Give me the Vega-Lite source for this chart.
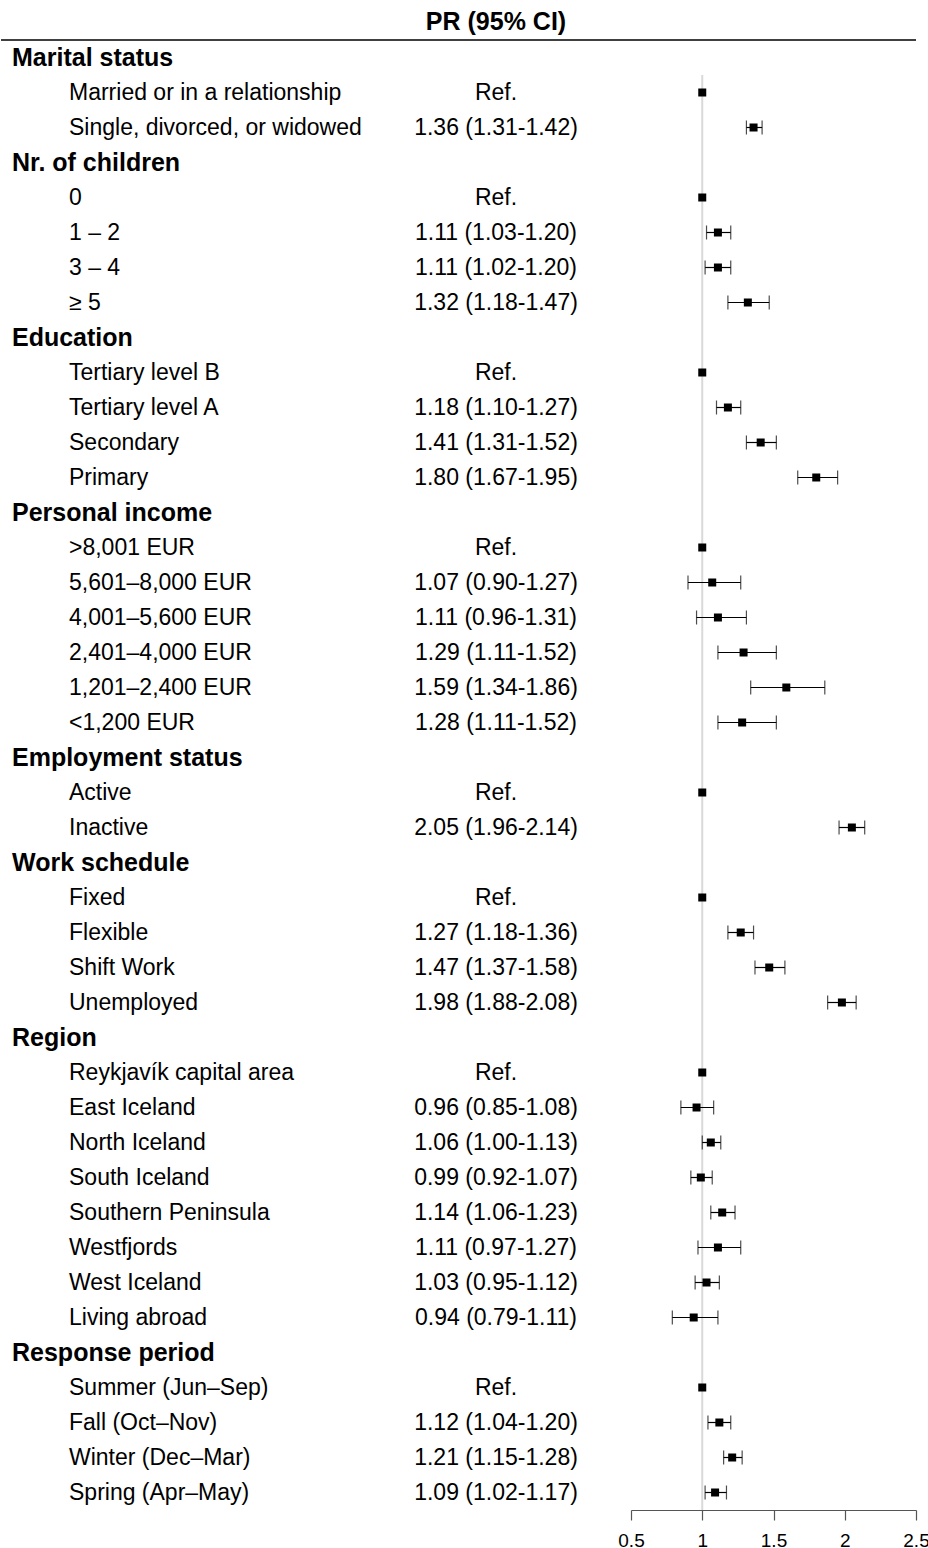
{
  "$schema": "https://vega.github.io/schema/vega-lite/v6.json",
  "padding": {"top": 10, "left": 0, "right": 3, "bottom": 3},
  "background": "white",
  "spacing": 0,
  "bounds": "flush",
  "config": {
    "view": {"stroke": null},
    "font": "Liberation Sans",
    "text": {"font": "Liberation Sans", "color": "#000000"},
    "title": {"font": "Liberation Sans", "color": "#000000"},
    "axis": {"labelFont": "Liberation Sans", "titleFont": "Liberation Sans"},
    "axisX": {"labelFontSize": 19, "labelPadding": 11, "labelFlush": false, "labelColor": "#000000"}
  },
  "data": {
    "values": [
      {"row": 1, "label": "Marital status", "kind": "header", "pr": null, "est": null, "lo": null, "hi": null},
      {"row": 2, "label": "Married or in a relationship", "kind": "item", "pr": "Ref.", "est": 1, "lo": null, "hi": null},
      {"row": 3, "label": "Single, divorced, or widowed", "kind": "item", "pr": "1.36 (1.31-1.42)", "est": 1.36, "lo": 1.31, "hi": 1.42},
      {"row": 4, "label": "Nr. of children", "kind": "header", "pr": null, "est": null, "lo": null, "hi": null},
      {"row": 5, "label": "0", "kind": "item", "pr": "Ref.", "est": 1, "lo": null, "hi": null},
      {"row": 6, "label": "1 – 2", "kind": "item", "pr": "1.11 (1.03-1.20)", "est": 1.11, "lo": 1.03, "hi": 1.20},
      {"row": 7, "label": "3 – 4", "kind": "item", "pr": "1.11 (1.02-1.20)", "est": 1.11, "lo": 1.02, "hi": 1.20},
      {"row": 8, "label": "≥ 5", "kind": "item", "pr": "1.32 (1.18-1.47)", "est": 1.32, "lo": 1.18, "hi": 1.47},
      {"row": 9, "label": "Education", "kind": "header", "pr": null, "est": null, "lo": null, "hi": null},
      {"row": 10, "label": "Tertiary level B", "kind": "item", "pr": "Ref.", "est": 1, "lo": null, "hi": null},
      {"row": 11, "label": "Tertiary level A", "kind": "item", "pr": "1.18 (1.10-1.27)", "est": 1.18, "lo": 1.10, "hi": 1.27},
      {"row": 12, "label": "Secondary", "kind": "item", "pr": "1.41 (1.31-1.52)", "est": 1.41, "lo": 1.31, "hi": 1.52},
      {"row": 13, "label": "Primary", "kind": "item", "pr": "1.80 (1.67-1.95)", "est": 1.80, "lo": 1.67, "hi": 1.95},
      {"row": 14, "label": "Personal income", "kind": "header", "pr": null, "est": null, "lo": null, "hi": null},
      {"row": 15, "label": ">8,001 EUR", "kind": "item", "pr": "Ref.", "est": 1, "lo": null, "hi": null},
      {"row": 16, "label": "5,601–8,000 EUR", "kind": "item", "pr": "1.07 (0.90-1.27)", "est": 1.07, "lo": 0.90, "hi": 1.27},
      {"row": 17, "label": "4,001–5,600 EUR", "kind": "item", "pr": "1.11 (0.96-1.31)", "est": 1.11, "lo": 0.96, "hi": 1.31},
      {"row": 18, "label": "2,401–4,000 EUR", "kind": "item", "pr": "1.29 (1.11-1.52)", "est": 1.29, "lo": 1.11, "hi": 1.52},
      {"row": 19, "label": "1,201–2,400 EUR", "kind": "item", "pr": "1.59 (1.34-1.86)", "est": 1.59, "lo": 1.34, "hi": 1.86},
      {"row": 20, "label": "<1,200 EUR", "kind": "item", "pr": "1.28 (1.11-1.52)", "est": 1.28, "lo": 1.11, "hi": 1.52},
      {"row": 21, "label": "Employment status", "kind": "header", "pr": null, "est": null, "lo": null, "hi": null},
      {"row": 22, "label": "Active", "kind": "item", "pr": "Ref.", "est": 1, "lo": null, "hi": null},
      {"row": 23, "label": "Inactive", "kind": "item", "pr": "2.05 (1.96-2.14)", "est": 2.05, "lo": 1.96, "hi": 2.14},
      {"row": 24, "label": "Work schedule", "kind": "header", "pr": null, "est": null, "lo": null, "hi": null},
      {"row": 25, "label": "Fixed", "kind": "item", "pr": "Ref.", "est": 1, "lo": null, "hi": null},
      {"row": 26, "label": "Flexible", "kind": "item", "pr": "1.27 (1.18-1.36)", "est": 1.27, "lo": 1.18, "hi": 1.36},
      {"row": 27, "label": "Shift Work", "kind": "item", "pr": "1.47 (1.37-1.58)", "est": 1.47, "lo": 1.37, "hi": 1.58},
      {"row": 28, "label": "Unemployed", "kind": "item", "pr": "1.98 (1.88-2.08)", "est": 1.98, "lo": 1.88, "hi": 2.08},
      {"row": 29, "label": "Region", "kind": "header", "pr": null, "est": null, "lo": null, "hi": null},
      {"row": 30, "label": "Reykjavík capital area", "kind": "item", "pr": "Ref.", "est": 1, "lo": null, "hi": null},
      {"row": 31, "label": "East Iceland", "kind": "item", "pr": "0.96 (0.85-1.08)", "est": 0.96, "lo": 0.85, "hi": 1.08},
      {"row": 32, "label": "North Iceland", "kind": "item", "pr": "1.06 (1.00-1.13)", "est": 1.06, "lo": 1.00, "hi": 1.13},
      {"row": 33, "label": "South Iceland", "kind": "item", "pr": "0.99 (0.92-1.07)", "est": 0.99, "lo": 0.92, "hi": 1.07},
      {"row": 34, "label": "Southern Peninsula", "kind": "item", "pr": "1.14 (1.06-1.23)", "est": 1.14, "lo": 1.06, "hi": 1.23},
      {"row": 35, "label": "Westfjords", "kind": "item", "pr": "1.11 (0.97-1.27)", "est": 1.11, "lo": 0.97, "hi": 1.27},
      {"row": 36, "label": "West Iceland", "kind": "item", "pr": "1.03 (0.95-1.12)", "est": 1.03, "lo": 0.95, "hi": 1.12},
      {"row": 37, "label": "Living abroad", "kind": "item", "pr": "0.94 (0.79-1.11)", "est": 0.94, "lo": 0.79, "hi": 1.11},
      {"row": 38, "label": "Response period", "kind": "header", "pr": null, "est": null, "lo": null, "hi": null},
      {"row": 39, "label": "Summer (Jun–Sep)", "kind": "item", "pr": "Ref.", "est": 1, "lo": null, "hi": null},
      {"row": 40, "label": "Fall (Oct–Nov)", "kind": "item", "pr": "1.12 (1.04-1.20)", "est": 1.12, "lo": 1.04, "hi": 1.20},
      {"row": 41, "label": "Winter (Dec–Mar)", "kind": "item", "pr": "1.21 (1.15-1.28)", "est": 1.21, "lo": 1.15, "hi": 1.28},
      {"row": 42, "label": "Spring (Apr–May)", "kind": "item", "pr": "1.09 (1.02-1.17)", "est": 1.09, "lo": 1.02, "hi": 1.17}
    ]
  },
  "hconcat": [
    {
      "width": 360,
      "height": 1470,
      "layer": [
        {
          "transform": [{"filter": "datum.row == 1"}],
          "mark": {"type": "rule", "color": "#000000", "strokeWidth": 1.3},
          "encoding": {
            "y": {"datum": 0.5, "type": "quantitative", "scale": {"domain": [0.5, 42.5], "reverse": true, "nice": false, "zero": false}, "axis": null}
          }
        },
        {
          "transform": [{"filter": "datum.kind == 'header'"}],
          "mark": {"type": "text", "align": "left", "baseline": "middle", "fontSize": 25, "fontWeight": "bold"},
          "encoding": {
            "x": {"field": "kind", "type": "nominal", "scale": {"type": "point", "domain": ["header", "item"], "range": [11, 68], "padding": 0}, "axis": null},
            "y": {"field": "row", "type": "quantitative", "scale": {"domain": [0.5, 42.5], "reverse": true, "nice": false, "zero": false}, "axis": null},
            "text": {"field": "label", "type": "nominal"}
          }
        },
        {
          "transform": [{"filter": "datum.kind == 'item'"}],
          "mark": {"type": "text", "align": "left", "baseline": "middle", "fontSize": 23},
          "encoding": {
            "x": {"field": "kind", "type": "nominal", "scale": {"type": "point", "domain": ["header", "item"], "range": [11, 68], "padding": 0}, "axis": null},
            "y": {"field": "row", "type": "quantitative", "scale": {"domain": [0.5, 42.5], "reverse": true, "nice": false, "zero": false}, "axis": null},
            "text": {"field": "label", "type": "nominal"}
          }
        }
      ]
    },
    {
      "width": 270,
      "height": 1470,
      "title": {"text": "PR (95% CI)", "anchor": "middle", "fontSize": 25, "fontWeight": "bold", "offset": 4},
      "layer": [
        {
          "transform": [{"filter": "datum.row == 1"}],
          "mark": {"type": "rule", "color": "#000000", "strokeWidth": 1.3},
          "encoding": {
            "y": {"datum": 0.5, "type": "quantitative", "scale": {"domain": [0.5, 42.5], "reverse": true, "nice": false, "zero": false}, "axis": null}
          }
        },
        {
          "transform": [{"filter": "datum.kind == 'item'"}],
          "mark": {"type": "text", "align": "center", "baseline": "middle", "fontSize": 23},
          "encoding": {
            "y": {"field": "row", "type": "quantitative", "scale": {"domain": [0.5, 42.5], "reverse": true, "nice": false, "zero": false}, "axis": null},
            "text": {"field": "pr", "type": "nominal"}
          }
        }
      ]
    },
    {
      "width": 285,
      "height": 1470,
      "layer": [
        {
          "transform": [{"filter": "datum.row == 1"}],
          "mark": {"type": "rule", "color": "#000000", "strokeWidth": 1.3},
          "encoding": {
            "y": {"datum": 0.5, "type": "quantitative", "scale": {"domain": [0.5, 42.5], "reverse": true, "nice": false, "zero": false}, "axis": null}
          }
        },
        {
          "transform": [{"filter": "datum.row == 1"}],
          "mark": {"type": "rule", "color": "#d9d9d9", "strokeWidth": 2},
          "encoding": {
            "x": {"datum": 1, "type": "quantitative", "scale": {"domain": [0.5, 2.5], "nice": false, "zero": false}, "axis": {"values": [0.5, 1, 1.5, 2, 2.5], "format": "~g", "title": null, "grid": false, "labelFlush": false, "labelOverlap": false, "domainColor": "#555555", "tickColor": "#555555", "domainWidth": 1.2, "tickWidth": 1.2, "tickSize": 10, "labelFontSize": 19, "labelColor": "#000000", "labelPadding": 11}},
            "y": {"datum": 1.5, "type": "quantitative", "scale": {"domain": [0.5, 42.5], "reverse": true, "nice": false, "zero": false}, "axis": null},
            "y2": {"datum": 42.5}
          }
        },
        {
          "transform": [{"filter": "isValid(datum.lo) && isValid(datum.hi)"}],
          "mark": {"type": "rule", "color": "#000000", "strokeWidth": 1.2},
          "encoding": {
            "x": {"field": "lo", "type": "quantitative", "axis": {"values": [0.5, 1, 1.5, 2, 2.5], "format": "~g", "title": null, "grid": false, "labelFlush": false, "labelOverlap": false, "domainColor": "#555555", "tickColor": "#555555", "domainWidth": 1.2, "tickWidth": 1.2, "tickSize": 10, "labelFontSize": 19, "labelColor": "#000000", "labelPadding": 11}},
            "x2": {"field": "hi"},
            "y": {"field": "row", "type": "quantitative", "axis": null}
          }
        },
        {
          "transform": [{"filter": "isValid(datum.lo)"}],
          "mark": {"type": "tick", "orient": "vertical", "color": "#000000", "size": 14, "thickness": 1.2},
          "encoding": {
            "x": {"field": "lo", "type": "quantitative", "axis": {"values": [0.5, 1, 1.5, 2, 2.5], "format": "~g", "title": null, "grid": false, "labelFlush": false, "labelOverlap": false, "domainColor": "#555555", "tickColor": "#555555", "domainWidth": 1.2, "tickWidth": 1.2, "tickSize": 10, "labelFontSize": 19, "labelColor": "#000000", "labelPadding": 11}},
            "y": {"field": "row", "type": "quantitative", "axis": null}
          }
        },
        {
          "transform": [{"filter": "isValid(datum.hi)"}],
          "mark": {"type": "tick", "orient": "vertical", "color": "#000000", "size": 14, "thickness": 1.2},
          "encoding": {
            "x": {"field": "hi", "type": "quantitative", "axis": {"values": [0.5, 1, 1.5, 2, 2.5], "format": "~g", "title": null, "grid": false, "labelFlush": false, "labelOverlap": false, "domainColor": "#555555", "tickColor": "#555555", "domainWidth": 1.2, "tickWidth": 1.2, "tickSize": 10, "labelFontSize": 19, "labelColor": "#000000", "labelPadding": 11}},
            "y": {"field": "row", "type": "quantitative", "axis": null}
          }
        },
        {
          "transform": [{"filter": "isValid(datum.est)"}],
          "mark": {"type": "square", "color": "#000000", "filled": true, "opacity": 1, "size": 64},
          "encoding": {
            "x": {"field": "est", "type": "quantitative", "axis": {"values": [0.5, 1, 1.5, 2, 2.5], "format": "~g", "title": null, "grid": false, "labelFlush": false, "labelOverlap": false, "domainColor": "#555555", "tickColor": "#555555", "domainWidth": 1.2, "tickWidth": 1.2, "tickSize": 10, "labelFontSize": 19, "labelColor": "#000000", "labelPadding": 11}},
            "y": {"field": "row", "type": "quantitative", "axis": null}
          }
        }
      ]
    }
  ]
}
